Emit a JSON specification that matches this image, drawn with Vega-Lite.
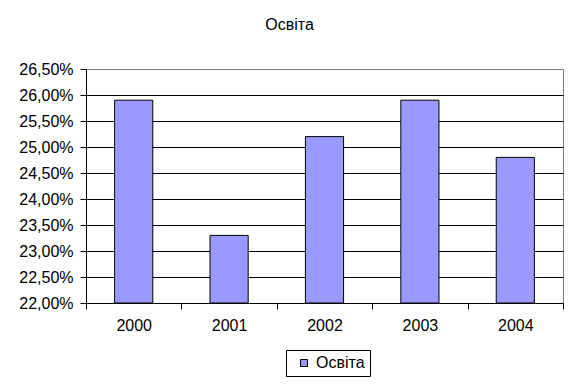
{
  "$schema": "https://vega.github.io/schema/vega-lite/v6.json",
  "width": 477,
  "height": 234,
  "padding": {"left": 18, "top": 17, "right": 16, "bottom": 5},
  "background": "white",
  "title": {
    "text": "Освіта",
    "fontSize": 16,
    "fontWeight": "normal",
    "color": "black",
    "font": "Liberation Sans",
    "anchor": "middle",
    "offset": 28,
    "dx": -35
  },
  "data": {
    "values": [
      {"year": "2000", "value": 0.259, "series": "Освіта"},
      {"year": "2001", "value": 0.233, "series": "Освіта"},
      {"year": "2002", "value": 0.252, "series": "Освіта"},
      {"year": "2003", "value": 0.259, "series": "Освіта"},
      {"year": "2004", "value": 0.248, "series": "Освіта"}
    ]
  },
  "mark": {"type": "bar", "stroke": "black", "strokeWidth": 1, "width": {"band": 0.4}},
  "encoding": {
    "x": {
      "field": "year",
      "type": "nominal",
      "scale": {"paddingInner": 0, "paddingOuter": 0},
      "axis": {
        "title": null,
        "labelAngle": 0,
        "tickBand": "extent",
        "tickSize": 6,
        "labelPadding": 8,
        "grid": false
      }
    },
    "y": {
      "field": "value",
      "type": "quantitative",
      "scale": {"domain": [0.22, 0.265], "zero": false, "nice": false},
      "axis": {
        "title": null,
        "values": [0.22, 0.225, 0.23, 0.235, 0.24, 0.245, 0.25, 0.255, 0.26, 0.265],
        "labelExpr": "replace(format(datum.value, '.2%'), '.', ',')",
        "tickSize": 6,
        "labelPadding": 7,
        "grid": true,
        "gridColor": {"condition": {"test": "datum.value > 0.264", "value": "#808080"}, "value": "black"},
        "gridOpacity": 1
      }
    },
    "y2": {"datum": 0.22},
    "color": {
      "field": "series",
      "type": "nominal",
      "scale": {"range": ["#9999FF"]},
      "legend": {
        "title": null,
        "orient": "none",
        "legendX": 200,
        "legendY": 281,
        "direction": "horizontal",
        "padding": 5,
        "strokeColor": "black",
        "fillColor": "white",
        "symbolType": "square",
        "symbolSize": 49,
        "symbolStrokeColor": "black",
        "symbolStrokeWidth": 1,
        "symbolOffset": 5,
        "labelOffset": 4,
        "labelFontSize": 16,
        "labelColor": "black"
      }
    }
  },
  "config": {
    "font": "Liberation Sans",
    "view": {"stroke": "#808080", "strokeWidth": 1},
    "axis": {
      "labelFont": "Liberation Sans",
      "labelFontSize": 16,
      "labelColor": "black",
      "domainColor": "black",
      "tickColor": "black",
      "domainWidth": 1,
      "tickWidth": 1,
      "gridWidth": 1
    },
    "legend": {"labelFont": "Liberation Sans"}
  }
}
